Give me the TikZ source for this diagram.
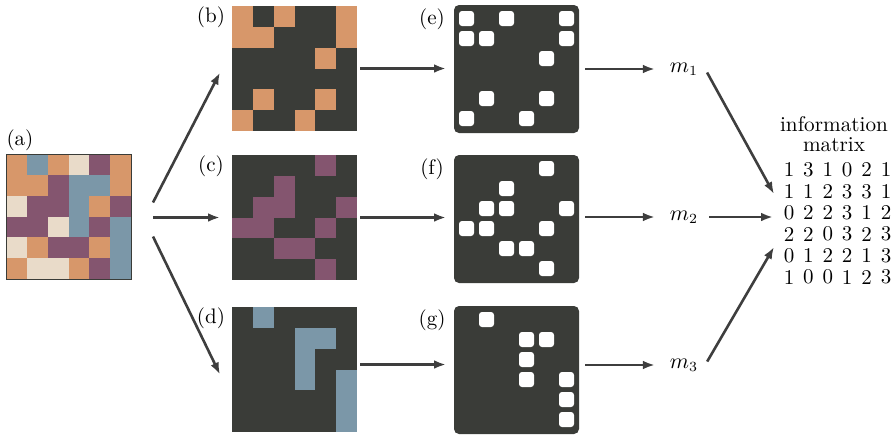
\documentclass[tikz,border=0pt]{standalone}
\usetikzlibrary{arrows.meta}
\definecolor{cell0}{RGB}{233,219,201}
\definecolor{cell1}{RGB}{215,151,106}
\definecolor{cell2}{RGB}{132,85,111}
\definecolor{cell3}{RGB}{123,151,168}
\definecolor{darkc}{RGB}{58,60,56}
\definecolor{arrowc}{RGB}{62,62,62}
\tikzset{
  flow/.style={-{Latex[length=6pt,width=4.4pt]},line width=1.3pt,draw=arrowc},
  panel/.style={minimum size=62.5pt,inner sep=0,outer sep=0,fill=darkc,anchor=north west},
  binpanel/.style={minimum width=62.5pt,minimum height=64pt,inner sep=0,outer sep=0,
    fill=darkc,rounded corners=2.5pt,anchor=north west},
  tag/.style={inner sep=0},
  digit/.style={inner sep=0}
}
\def\infodata{{1,3,1,0,2,1},{1,1,2,3,3,1},{0,2,2,3,1,2},{2,2,0,3,2,3},{0,1,2,2,1,3},{1,0,0,1,2,3}}

\begin{document}
\begin{tikzpicture}[x=0.5pt,y=-0.5pt,font=\fontsize{10.5}{12}\selectfont]
  \useasboundingbox (0,0) rectangle (896,435);

  % color-coded pattern
  \node[panel,fill=none] (a) at (6,154) {};
  \foreach \row [count=\r] in \infodata
    \foreach \v [count=\c] in \row
      \fill[cell\v] ([shift={({(\c-1)*125/6},{(\r-1)*125/6})}]a.north west) rectangle +(125/6,125/6);
  \draw[darkc,line width=0.5pt] (a.north west) rectangle (a.south east);
  \node[tag] (la) at (20,140) {(a)};

  % one layer per color
  \foreach \p/\k/\top in {b/1/6,c/2/155,d/3/307} {
    \node[panel] (\p) at (232,\top) {};
    \node[tag] (l\p) at (211,\top+11) {(\p)};
    \foreach \row [count=\r] in \infodata
      \foreach \v [count=\c] in \row {
        \ifnum\v=\k
          \fill[cell\k] ([shift={({(\c-1)*125/6},{(\r-1)*125/6})}]\p.north west) rectangle +(125/6,125/6);
        \fi
      }
  }

  % binary images
  \foreach \p/\k/\top in {e/1/5,f/2/155,g/3/306} {
    \node[binpanel] (\p) at (454,\top) {};
    \node[tag] (l\p) at (432,\top+14) {(\p)};
    \foreach \row [count=\r] in \infodata
      \foreach \v [count=\c] in \row {
        \ifnum\v=\k
          \fill[white,rounded corners=1.5pt] ([shift={({5+(\c-1)*20},{6+(\r-1)*20})}]\p.north west) rectangle +(15,15);
        \fi
      }
  }

  % patterns
  \node (m1) at (684,69) {$m_1$};
  \node (m2) at (684,217) {$m_2$};
  \node (m3) at (684,365) {$m_3$};

  % information matrix
  \node[align=center,font=\fontsize{10.6}{10}\selectfont] (title) at (834,134) {information\\matrix};
  \foreach \row [count=\r] in \infodata
    \foreach \v [count=\c] in \row
      \node[digit] (d\r\c) at ({789+(\c-1)*19.4},{170+(\r-1)*21.4}) {\v};
  \coordinate (t1) at (774,194);
  \coordinate (t2) at (773,217);
  \coordinate (t3) at (774,247);

  \draw[flow] ([xshift=11pt,yshift=7pt]a.east) -- ([xshift=-6pt,yshift=-2pt]b.west);
  \draw[flow] ([xshift=11pt]a.east |- c.west) -- ([xshift=-6pt]c.west);
  \draw[flow] ([xshift=11pt,yshift=-10pt]a.east) -- ([xshift=-6pt,yshift=-2.5pt]d.west);

  \draw[flow,shorten <=1.5pt,shorten >=4pt] (b.east) -- (e.west |- b.east);
  \draw[flow,shorten <=1.5pt,shorten >=4pt] (c.east) -- (f.west |- c.east);
  \draw[flow,shorten <=1.5pt,shorten >=4pt] ([yshift=2.5pt]d.east) -- ([yshift=2.5pt]d.east -| g.west);

  \draw[flow,shorten <=3pt,shorten >=4pt] (e.east |- m1) -- (m1.west);
  \draw[flow,shorten <=3pt,shorten >=4pt] (f.east |- m2) -- (m2.west);
  \draw[flow,shorten <=3pt,shorten >=4pt] (g.east |- m3) -- (m3.west);

  \draw[flow,shorten <=2pt] (m1.east) -- (t1);
  \draw[flow,shorten <=2pt] (m2.east) -- (t2);
  \draw[flow,shorten <=2pt] (m3.east) -- (t3);
\end{tikzpicture}
\end{document}
